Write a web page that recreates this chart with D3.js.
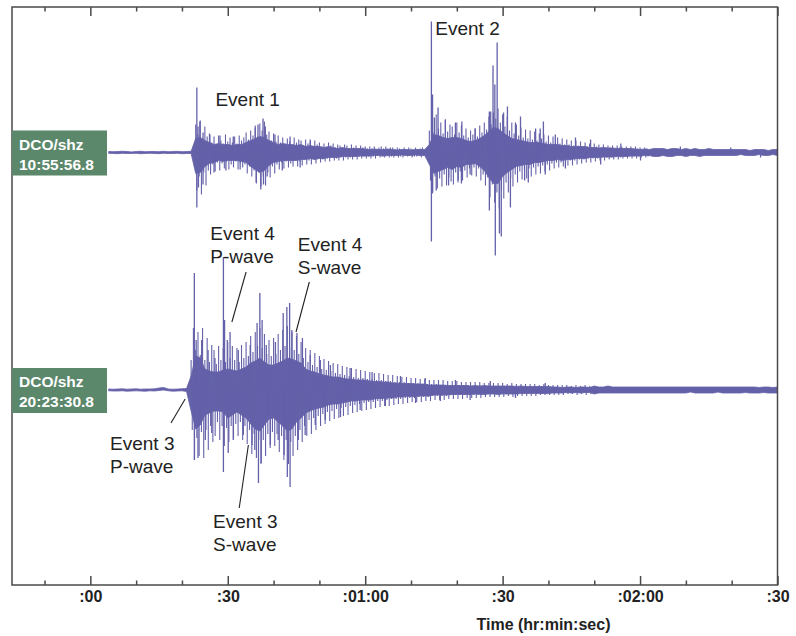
<!DOCTYPE html>
<html>
<head>
<meta charset="utf-8">
<script src="https://cdn.jsdelivr.net/npm/d3@7"></script>
<style>
  html, body { margin: 0; padding: 0; background: #fff; }
  svg { display: block; }
  text { font-family: "Liberation Sans", Arial, Helvetica, sans-serif; }
</style>
</head>
<body>
<div id="chart"></div>
<script>
// ---- Station labels -------------------------------------------------------
const stationNames = ["DCO/shz", "DCO/shz"];
const startTimes = ["10:55:56.8", "20:23:30.8"];

// ---- Time axis (seconds after the labelled start time) --------------------
const timeDomain = [-17.1, 150];
const majorTicks = [0, 30, 60, 90, 120, 150];
const majorTickLabels = [":00", ":30", ":01:00", ":30", ":02:00", ":30"];
const minorTicks = [-10, 10, 20, 40, 50, 70, 80, 100, 110, 130, 140];
const axisTitle = "Time (hr:min:sec)";

// ---- Dense core of each trace: one sample per second from envStart --------
const envStart = 4;
const trace1Upper = [
  1,0.8,1,1.2,1,0.6,1,1.2,0.8,1,1,0.8,1.2,0.8,1,1.2,0.8,1,1.2,
  14,15,12,10,8,9,8,8,7,8,8,10,12,14,16,15,12,10,8,9,8,8,7,8,6,7,6,
  6,5,6,5,4,5,4,4,4,4,3.5,3,3.5,3,3,3.5,3,2.5,3,3,2.5,3,3,3,
  8,18,17,15,14,15,15,14,12,11,12,14,17,21,25,24,20,17,14,13,12,11,10,10,10,9,
  8,8,8,7,7,6,6,6,6,5,5,4.5,5,4.5,4.5,4,4,4,4,3.5,3,3.5,3,
  4,4,4,3,4,4,3,4,3,4,3,3,4,3,3,3,3,3,3,3,3,2,3,3,3,2,3,3
];
const trace1Lower = [
  -0.8,-1,-1.2,-0.8,-1,-1,-0.8,-1.2,-1,-0.8,-1,-1.2,-0.8,-1,-1,-0.8,-1.2,-1,-1,
  -21,-20,-14,-11,-10,-8,-9,-8,-8,-8,-9,-10,-14,-17,-20,-18,-13,-10,-9,-8,-8,-8,-8,-7,-7,-6,-7,
  -6,-6,-5,-5,-5,-4,-4,-4,-4,-3.5,-3.5,-3.5,-3,-3,-3.5,-3,-3,-3,-2.5,-3,-3,-2.5,-3,-3,
  -12,-21,-19,-17,-15,-17,-14,-15,-12,-12,-11,-14,-18,-25,-31,-31,-24,-20,-17,-14,-13,-12,-12,-10,-10,-9,
  -8,-8,-7,-8,-7,-7,-6,-6,-6,-5,-5,-5,-4.5,-4.5,-4.5,-4,-4,-4,-3.5,-3.5,-3.5,-3,-3,
  -4,-4,-3,-4,-4,-3,-3,-4,-3,-3,-4,-3,-3,-3,-3,-3,-3,-3,-3,-2,-3,-3,-3,-2,-3,-3,-2,-3
];
const trace2Upper = [
  1,0.8,1,1.2,0.8,1,1.2,0.8,1,1,1.2,2,2.5,1,0.8,1,1.2,1.5,
  14,34,32,21,19,18,18,20,21,20,19,21,23,27,29,32,28,25,25,27,29,32,31,29,27,21,19,18,
  16,15,14,13,13,12,11,11,10,10,10,9,8.5,8.5,8,8,7,7,6.5,6.5,6.5,6,6,6,5,5,5,5,4.5,4.5,
  4.5,4.5,4.5,4,4.5,4,4.5,4,4,4,4,4,4,3.5,4,3.5,3.5,3.5,3.5,3.5,3.5,
  3,3,2.5,3,3,2.5,3,3,2.5,
  4,3,3,4,3,3,3,3,3,3,3,3,3,3,3,3,3,3,3,3,3,3,3,3,3,3,3,3,3,3,3,
  3,3,3,3,3,2.5,3,3,2.5,3
];
const trace2Lower = [
  -0.8,-1,-1,-0.8,-1.2,-1,-0.8,-1,-1.2,-0.8,-1,-0.5,0,-0.8,-1.2,-1,-0.8,-1.5,
  -21,-39,-35,-25,-23,-21,-21,-22,-28,-25,-22,-25,-28,-34,-39,-41,-35,-29,-28,-32,-36,-41,-39,-32,-28,-23,-21,-19,
  -18,-17,-15,-14,-14,-13,-12,-11,-11,-10,-10,-10,-9,-8.5,-8.5,-8,-8,-7,-7,-6.5,-6.5,-6.5,-6,-6,-6,-5,-5,-5,-5,-4.5,
  -4.5,-4.5,-4.5,-4.5,-4,-4.5,-4.5,-4,-4,-4.5,-4,-4,-4,-4,-3.5,-3.5,-3.5,-3.5,-3.5,-3.5,-3.5,
  -3,-3,-3,-2.5,-3,-2.5,-3,-2.5,-2.5,
  -4,-3,-3,-3,-3,-3,-3,-3,-3,-3,-3,-3,-3,-3,-3,-3,-3,-3,-3,-3,-3,-2,-3,-3,-3,-3,-3,-2,-3,-3,-3,
  -3,-3,-2.5,-3,-3,-3,-2.5,-3,-3,-3
];

// ---- Swing extremes every half second during the coda ---------------------
const swingStep = 0.5;
const trace1SwingStart = 23;
const trace1SwingUp = [
  28,18,32,14,26,16,
  19,10,16,8,17,12,9,18,11,15,
  10,16,9,17,12,15,20,13,22,17,
  27,16,29,22,31,18,21,12,19,11,
  17,10,15,9,14,11,8,15,10,13,
  12,7,13,9,11,6,12,8,10,6,
  9,5,10,7,9,5,8,7,5,8,
  7,4,8,5,7,4,7,5,6,4,
  6,4,6,3,5,6,4,6,3,5,
  5,3,5,4,3,5,3,5,4,3,
  5,3,4,5,3,4,
  22,34,20,38,24,30,19,33,21,28,
  26,18,30,20,27,17,24,15,22,18,
  24,16,27,20,30,23,36,28,40,34,
  44,30,38,26,36,22,30,19,28,17,
  25,15,23,14,22,13,21,12,19,14,
  18,11,17,10,16,9,15,9,14,8,
  13,8,12,7,12,7,11,6,10,6,
  9,5,9,6,8,5,8,5,7,5,
  7,4,7,5,6,4,6,4,6,4,
  6,4,5,3,5,4
];
const trace1SwingDown = [
  -38,-24,-42,-20,-33,-18,
  -22,-12,-19,-10,-18,-11,-16,-9,-17,-12,
  -15,-9,-17,-11,-15,-12,-21,-14,-24,-18,
  -31,-20,-34,-24,-33,-20,-25,-14,-21,-12,
  -17,-10,-16,-9,-15,-11,-14,-8,-14,-9,
  -13,-7,-12,-8,-12,-7,-11,-6,-10,-7,
  -9,-6,-9,-5,-8,-6,-8,-5,-8,-5,
  -7,-5,-7,-4,-7,-4,-6,-4,-6,-4,
  -6,-4,-6,-3,-5,-4,-5,-3,-5,-4,
  -5,-3,-5,-4,-5,-3,-4,-3,-5,-4,
  -4,-3,-5,-3,-4,-4,
  -28,-40,-24,-36,-26,-34,-22,-33,-25,-29,
  -32,-20,-30,-19,-28,-18,-25,-16,-23,-15,
  -24,-16,-28,-22,-33,-25,-45,-32,-50,-40,
  -56,-38,-46,-30,-40,-26,-34,-22,-30,-19,
  -27,-17,-26,-16,-24,-15,-22,-14,-21,-13,
  -19,-12,-18,-11,-16,-10,-15,-10,-14,-9,
  -13,-8,-13,-8,-12,-7,-11,-7,-10,-6,
  -10,-6,-9,-6,-8,-5,-8,-5,-7,-5,
  -7,-4,-7,-5,-6,-4,-6,-4,-6,-4,
  -6,-4,-5,-3,-5,-4
];
const trace2SwingStart = 22;
const trace2SwingUp = [
  30,62,40,58,35,62,30,52,28,45,
  40,26,44,30,42,28,48,32,44,30,
  42,28,45,32,48,34,54,38,58,44,
  62,42,56,36,50,34,52,36,56,40,
  60,44,64,42,58,40,54,36,48,32,
  42,28,40,25,37,23,34,21,31,20,
  29,19,27,17,26,16,24,15,23,14,
  22,13,21,12,20,12,19,11,18,11,
  17,10,17,10,16,9,15,9,15,8,
  14,8,13,8,13,7,12,7,12,7,
  11,6,11,6,10,6,10,6,10,5,
  10,5,9,5,9,5,9,5,8,5,
  8,5,8,4,8,4,8,4,7,4,
  7,4,7,4,7,4,7,4,6,4,
  7,4,6,3,6,4,6,3,6,3,
  6,3,5,4,6,3,5,3,5,3,
  5,3,5,3,5,3,4,3,5,3,
  4,3,5,3,4,3
];
const trace2SwingDown = [
  -40,-70,-48,-66,-42,-68,-40,-60,-36,-52,
  -46,-32,-50,-36,-56,-38,-52,-36,-48,-34,
  -46,-32,-50,-36,-54,-40,-64,-44,-68,-50,
  -74,-50,-66,-44,-58,-42,-56,-44,-62,-46,
  -70,-50,-74,-52,-66,-46,-60,-40,-52,-36,
  -46,-30,-44,-28,-40,-26,-36,-24,-34,-22,
  -31,-21,-29,-19,-28,-18,-26,-17,-25,-16,
  -23,-15,-22,-14,-21,-13,-20,-12,-19,-12,
  -18,-11,-17,-11,-16,-10,-16,-9,-15,-9,
  -14,-9,-14,-8,-13,-8,-12,-8,-12,-7,
  -12,-7,-11,-7,-11,-6,-10,-6,-10,-6,
  -10,-6,-9,-5,-9,-5,-9,-5,-9,-5,
  -8,-5,-8,-5,-8,-4,-8,-4,-7,-4,
  -7,-4,-7,-4,-7,-4,-7,-4,-6,-4,
  -7,-4,-6,-3,-6,-4,-6,-3,-6,-3,
  -6,-3,-5,-4,-5,-3,-5,-3,-5,-3,
  -5,-3,-5,-3,-4,-3,-4,-3,-5,-3,
  -4,-3,-5,-3,-4,-3
];

// ---- Individual large swings [time s, amplitude counts] --------------------
const trace1Peaks = [
  [23.25,65],[23.25,-55],[23.5,26],[23.9,31],[23.6,-35],[24.6,20],[24.6,-32],
  [26.1,18],[27.0,-20],[28.3,17],[29.6,-18],[31.2,16],[32.7,-17],
  [36.0,25],[36.6,28],[37.7,34],[38.2,26],[37.2,-37],[36.2,-30],[37.8,-32],[38.6,-24],
  [40.3,18],[41.9,-18],[43.6,16],[45.8,-15],[48.0,13],
  [74.45,131],[74.45,-89],[74.7,58],[74.65,-41],[75.1,35],[75.5,-38],[75.9,45],
  [77.5,33],[78.2,-33],[79.7,30],[80.3,-28],[81.1,31],[81.0,-31],[82.9,-22],[84.0,24],
  [87.1,41],[87.1,-58],[87.4,41],[87.9,87],[88.3,68],[88.8,110],[88.4,-103],[89.3,-81],
  [89.7,-84],[90.2,40],[91.05,46],[91.7,-55],[92.8,30],[93.9,36],[94.8,-28],[95.6,-30],
  [97.2,24],[98.2,24],[98.9,31],[99.3,-22],[101.5,18],[103.7,-16],[105.9,15],
  [109.2,13],[111.4,-12],[115.8,9],[120.1,-8],[128.8,6],[139.8,5],[146.3,-5]
];
const trace2Peaks = [
  [22.7,117],[22.7,-70],[23.1,50],[23.5,-68],[24.3,50],[25.1,-50],[25.7,40],[26.5,-43],[27.2,32],
  [29.05,133],[29.05,-82],[29.3,70],[29.9,50],[30.1,-63],[30.5,58],[31.2,-50],[32.3,40],[33.4,-45],
  [34.9,45],[35.3,-55],[36.4,67],[37.0,97],[37.5,70],[36.7,-93],[37.3,-73],[35.9,-60],
  [38.4,45],[39.3,-55],[40.4,48],[41.0,-50],
  [42.1,77],[42.9,83],[43.5,87],[43.6,-97],[43.0,-87],[42.3,-65],[44.0,60],
  [45.1,57],[46.3,52],[45.4,-50],[46.9,-45],
  [48.0,35],[49.1,-35],[50.2,30],[51.3,-30],[52.4,25],[54.6,-27],[56.7,22],[58.9,-20],
  [61.5,18],[64.4,-16],[67.7,14],[71.0,-13],[73.1,12],[76.4,-11],[79.7,10],[82.9,-10],
  [87.3,9],[92.8,-8],[99.3,7],[139.7,3]
];

// ---- Annotations ----------------------------------------------------------
const eventLabels = [
  { lines: ["Event 1"], t: 27.3, trace: 0, amp: 47 },
  { lines: ["Event 2"], t: 75.3, trace: 0, amp: 118 },
  { lines: ["Event 4", "P-wave"], t: 26.2, trace: 1, amp: 150 },
  { lines: ["Event 4", "S-wave"], t: 45.3, trace: 1, amp: 139 },
  { lines: ["Event 3", "P-wave"], t: 4.3, trace: 1, amp: -60 },
  { lines: ["Event 3", "S-wave"], t: 26.8, trace: 1, amp: -138 }
];
// leader lines [t0, amp0, t1, amp1] on trace 2
const leaderLines = [
  [34.0, 118, 30.9, 68],
  [47.8, 108, 44.9, 58],
  [17.6, -33, 20.7, -9],
  [34.5, -55, 32.5, -118]
];

// ---- Layout ---------------------------------------------------------------
const W = 796, H = 636;
const frame = { left: 12, right: 777.5, top: 7, bottom: 585 };
const baselines = [152.5, 390];
const traceColor = "#6461a9";
const boxColor = "#5b876b";

const svg = d3.select("#chart").append("svg")
  .attr("width", W).attr("height", H);

const x = d3.scaleLinear().domain(timeDomain).range([frame.left, frame.right]);
const yScales = baselines.map(b => d3.scaleLinear().domain([-100, 100]).range([b + 100, b - 100]));

function envelope(upper, lower) {
  return upper.map((u, i) => ({ t: envStart + i, hi: u, lo: lower[i] }));
}
function swings(start, up, down) {
  const out = [];
  up.forEach((v, i) => out.push([start + i * swingStep, v]));
  down.forEach((v, i) => out.push([start + i * swingStep + swingStep / 2, v]));
  return out;
}
const traces = [
  { env: envelope(trace1Upper, trace1Lower),
    swing: swings(trace1SwingStart, trace1SwingUp, trace1SwingDown),
    peaks: trace1Peaks },
  { env: envelope(trace2Upper, trace2Lower),
    swing: swings(trace2SwingStart, trace2SwingUp, trace2SwingDown),
    peaks: trace2Peaks }
];

// ---- Traces ---------------------------------------------------------------
const plot = svg.append("g");
traces.forEach((tr, k) => {
  const y = yScales[k];
  const area = d3.area()
    .x(d => x(d.t)).y0(d => y(d.lo)).y1(d => y(d.hi))
    .curve(d3.curveLinear);
  plot.append("path")
    .datum(tr.env)
    .attr("d", area)
    .attr("fill", traceColor)
    .attr("stroke", traceColor)
    .attr("stroke-width", 0.8)
    .attr("stroke-linejoin", "round");
  plot.append("g").selectAll("line")
    .data(tr.swing)
    .join("line")
    .attr("x1", d => x(d[0])).attr("x2", d => x(d[0]))
    .attr("y1", y(0)).attr("y2", d => y(d[1]))
    .attr("stroke", traceColor)
    .attr("stroke-width", 1.1);
  plot.append("g").selectAll("line")
    .data(tr.peaks)
    .join("line")
    .attr("x1", d => x(d[0])).attr("x2", d => x(d[0]))
    .attr("y1", y(0)).attr("y2", d => y(d[1]))
    .attr("stroke", traceColor)
    .attr("stroke-width", 1.3);
});

// ---- Frame and axes -------------------------------------------------------
const axisColor = "#4a4a4a";
svg.append("rect")
  .attr("x", frame.left).attr("y", frame.top)
  .attr("width", frame.right - frame.left)
  .attr("height", frame.bottom - frame.top)
  .attr("fill", "none").attr("stroke", axisColor).attr("stroke-width", 1.5);

function drawAxis(axisFn, yPos, ticks, size, labels) {
  const ax = axisFn(x).tickValues(ticks).tickSizeInner(-size).tickSizeOuter(0).tickPadding(6)
    .tickFormat(labels ? (d, i) => labels[i] : () => "");
  const g = svg.append("g").attr("transform", `translate(0,${yPos})`).call(ax);
  g.select(".domain").remove();
  g.selectAll(".tick line").attr("stroke", axisColor).attr("stroke-width", 1.5);
  return g;
}
const bottomMajor = drawAxis(d3.axisBottom, frame.bottom, majorTicks, 9, majorTickLabels);
bottomMajor.selectAll(".tick text")
  .attr("font-size", 16).attr("font-weight", "bold").attr("fill", "#222")
  .attr("font-family", "Liberation Sans, Arial, sans-serif")
  .attr("dy", "0.71em");
drawAxis(d3.axisBottom, frame.bottom, minorTicks, 4.5, null);
drawAxis(d3.axisTop, frame.top, majorTicks, 9, null);
drawAxis(d3.axisTop, frame.top, minorTicks, 4.5, null);

svg.append("text")
  .attr("x", 543.5).attr("y", 630)
  .attr("text-anchor", "middle")
  .attr("font-size", 16).attr("font-weight", "bold").attr("fill", "#222")
  .text(axisTitle);

// ---- Station boxes --------------------------------------------------------
stationNames.forEach((name, k) => {
  const b = baselines[k];
  const g = svg.append("g");
  g.append("rect")
    .attr("x", frame.left).attr("y", b - 22)
    .attr("width", 95).attr("height", 45)
    .attr("fill", boxColor);
  g.append("text")
    .attr("x", frame.left + 7).attr("y", b - 3)
    .attr("font-size", 15.5).attr("font-weight", "bold").attr("fill", "#fff")
    .text(name);
  g.append("text")
    .attr("x", frame.left + 7).attr("y", b + 17)
    .attr("font-size", 15.5).attr("font-weight", "bold").attr("fill", "#fff")
    .text(startTimes[k]);
});

// ---- Event annotations ----------------------------------------------------
eventLabels.forEach(l => {
  const y = yScales[l.trace];
  const t = svg.append("text")
    .attr("x", x(l.t)).attr("y", y(l.amp))
    .attr("font-size", 19).attr("fill", "#222");
  l.lines.forEach((s, i) => {
    t.append("tspan").attr("x", x(l.t)).attr("dy", i === 0 ? 0 : 22.5).text(s);
  });
});
svg.append("g").selectAll("line")
  .data(leaderLines)
  .join("line")
  .attr("x1", d => x(d[0])).attr("y1", d => yScales[1](d[1]))
  .attr("x2", d => x(d[2])).attr("y2", d => yScales[1](d[3]))
  .attr("stroke", "#222").attr("stroke-width", 1.1);
</script>
</body>
</html>
